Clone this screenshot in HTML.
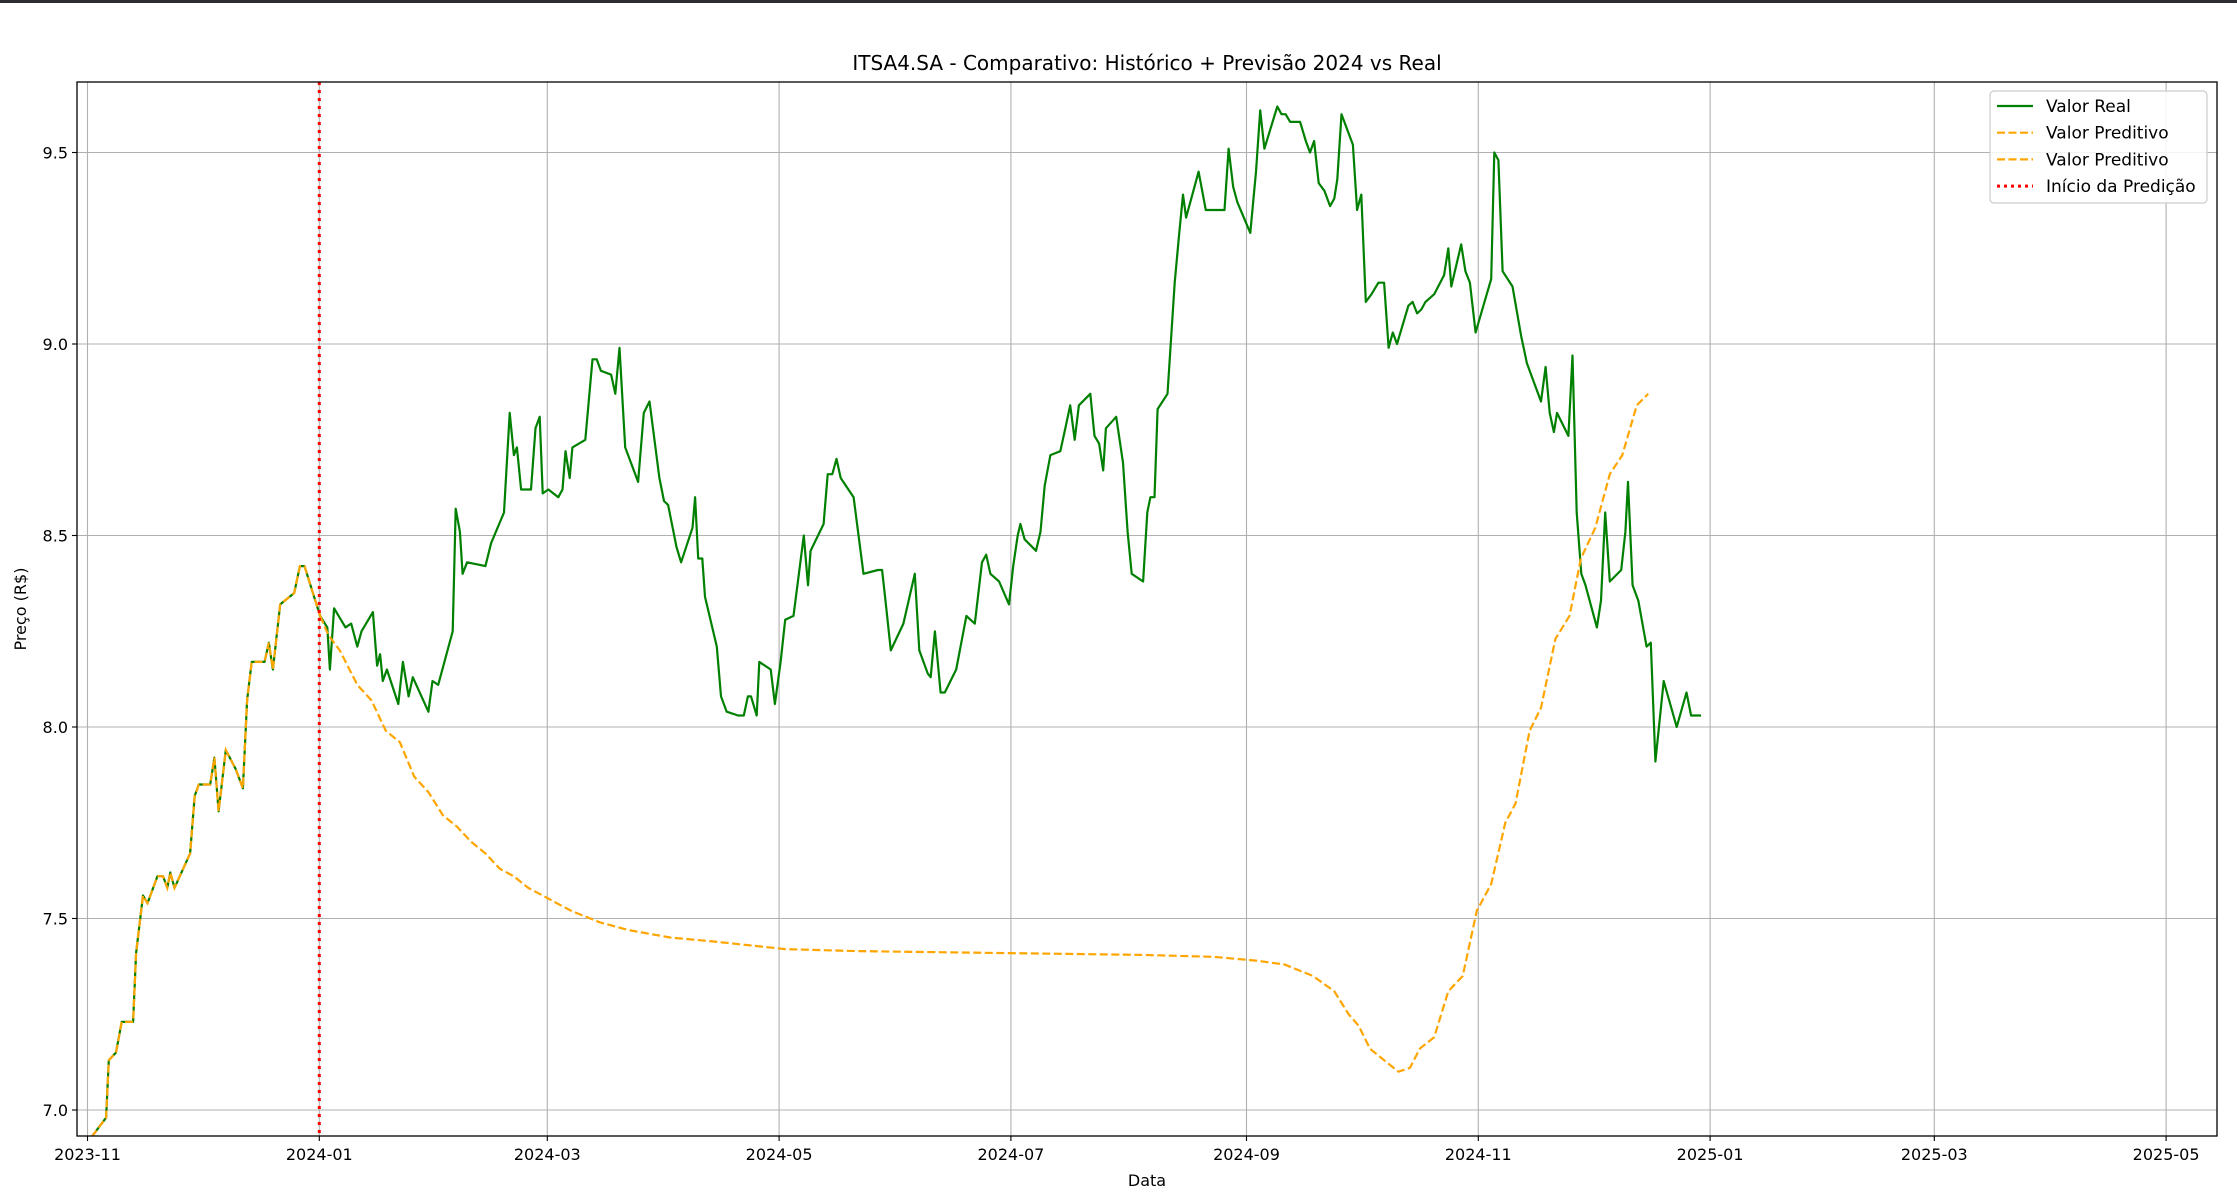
<!DOCTYPE html>
<html><head><meta charset="utf-8"><style>
html,body{margin:0;padding:0;background:#fff;}
#topbar{position:absolute;left:0;top:0;width:2237px;height:3px;background:#2b2d31;}
svg{position:absolute;left:0;top:0;font-family:"DejaVu Sans","Liberation Sans",sans-serif;}
</style></head><body>
<div id="topbar"></div>
<svg id="chart" width="2237" height="1199"></svg>
<script>
const xTickDays=[0,61,121,182,243,305,366,427,486,547];
const xTickLabels=["2023-11","2024-01","2024-03","2024-05","2024-07","2024-09","2024-11","2025-01","2025-03","2025-05"];
const yTicks=[7.0,7.5,8.0,8.5,9.0,9.5];
const histDays=[1.1,4.9,5.6,7.5,9.0,12.0,12.8,14.6,15.8,18.4,19.9,21.0,21.8,22.9,27.0,28.2,29.3,32.3,33.4,34.5,36.4,39.0,40.9,42.0,43.2,46.6,47.7,48.8,50.7,54.4,55.9,57.1,61.2];
const histValues=[6.93,6.98,7.13,7.15,7.23,7.23,7.41,7.56,7.54,7.61,7.61,7.58,7.62,7.58,7.67,7.82,7.85,7.85,7.92,7.78,7.94,7.89,7.84,8.07,8.17,8.17,8.22,8.15,8.32,8.35,8.42,8.42,8.29];
const realDays=[61.2,63.1,63.8,64.9,67.9,69.4,71.0,72.1,75.1,76.2,77.0,77.7,78.8,81.8,83.0,84.5,85.6,89.7,90.8,92.3,96.1,96.9,98.0,98.7,99.9,104.7,106.2,109.6,111.1,112.2,113.0,114.1,116.7,117.9,119.0,119.8,121.3,123.9,125.0,125.8,126.9,127.6,131.0,132.9,134.0,135.1,137.8,138.9,140.0,141.5,144.9,146.4,147.9,150.5,151.7,152.8,155.0,156.2,159.2,159.9,160.7,161.8,162.5,165.6,166.7,168.2,171.2,172.7,173.8,174.6,176.1,176.8,179.8,180.9,182.4,183.6,185.8,188.5,189.6,190.3,193.7,194.8,196.0,197.1,198.2,201.6,204.2,208.0,209.1,210.2,211.4,214.7,217.7,218.9,221.1,221.9,223.0,224.5,225.6,228.6,231.3,232.4,233.5,235.4,236.5,237.6,239.9,242.5,243.6,244.8,245.5,246.6,249.6,250.8,251.9,253.4,256.0,257.1,258.6,259.8,260.9,263.9,265.0,266.2,267.3,268.0,270.7,272.5,273.7,274.8,277.8,278.9,279.7,280.8,281.6,284.2,286.1,287.2,288.3,289.1,292.4,294.3,299.2,300.3,301.5,302.6,306.0,307.5,308.6,309.7,313.1,314.2,315.3,316.5,319.1,320.6,321.7,322.8,324.0,325.5,327.0,328.1,328.9,330.0,333.0,334.1,335.2,336.4,337.9,339.7,341.2,342.4,343.5,344.6,347.6,348.7,349.9,351.0,352.1,354.4,357.0,358.1,358.9,361.5,362.6,363.8,365.3,369.4,370.2,371.3,372.4,375.0,377.3,378.8,382.5,383.7,384.8,385.9,386.7,389.7,390.8,391.9,393.1,394.2,397.2,398.3,399.4,400.6,403.6,404.7,405.4,406.6,408.1,410.3,411.4,412.6,414.8,418.2,420.8,422.0,424.6];
const realValues=[8.29,8.26,8.15,8.31,8.26,8.27,8.21,8.25,8.30,8.16,8.19,8.12,8.15,8.06,8.17,8.08,8.13,8.04,8.12,8.11,8.25,8.57,8.51,8.40,8.43,8.42,8.48,8.56,8.82,8.71,8.73,8.62,8.62,8.78,8.81,8.61,8.62,8.60,8.62,8.72,8.65,8.73,8.75,8.96,8.96,8.93,8.92,8.87,8.99,8.73,8.64,8.82,8.85,8.65,8.59,8.58,8.47,8.43,8.52,8.60,8.44,8.44,8.34,8.21,8.08,8.04,8.03,8.03,8.08,8.08,8.03,8.17,8.15,8.06,8.17,8.28,8.29,8.50,8.37,8.46,8.53,8.66,8.66,8.70,8.65,8.60,8.40,8.41,8.41,8.31,8.20,8.27,8.40,8.20,8.14,8.13,8.25,8.09,8.09,8.15,8.29,8.28,8.27,8.43,8.45,8.40,8.38,8.32,8.42,8.50,8.53,8.49,8.46,8.51,8.63,8.71,8.72,8.77,8.84,8.75,8.84,8.87,8.76,8.74,8.67,8.78,8.81,8.69,8.51,8.40,8.38,8.56,8.60,8.60,8.83,8.87,9.16,9.28,9.39,9.33,9.45,9.35,9.35,9.51,9.41,9.37,9.29,9.45,9.61,9.51,9.62,9.60,9.60,9.58,9.58,9.53,9.50,9.53,9.42,9.40,9.36,9.38,9.43,9.60,9.52,9.35,9.39,9.11,9.13,9.16,9.16,8.99,9.03,9.00,9.10,9.11,9.08,9.09,9.11,9.13,9.18,9.25,9.15,9.26,9.19,9.16,9.03,9.17,9.50,9.48,9.19,9.15,9.02,8.95,8.85,8.94,8.82,8.77,8.82,8.76,8.97,8.56,8.40,8.37,8.26,8.33,8.56,8.38,8.41,8.51,8.64,8.37,8.33,8.21,8.22,7.91,8.12,8.00,8.09,8.03,8.03];
const predDays=[61.2,63.4,66.4,71.0,74.7,78.5,82.2,86.0,89.7,93.5,97.2,101.0,104.7,108.5,112.2,116.0,119.8,123.5,127.3,134.8,142.3,153.5,164.8,183.6,202.3,239.9,277.4,296.2,307.5,315.0,322.5,328.1,331.9,334.5,337.5,341.2,345.0,348.0,350.6,354.4,358.1,361.9,365.6,369.4,373.1,375.8,379.5,382.5,386.3,390.0,393.0,396.8,400.6,403.9,407.7,410.7];
const predValues=[8.29,8.24,8.20,8.11,8.07,7.99,7.96,7.87,7.83,7.77,7.74,7.70,7.67,7.63,7.61,7.58,7.56,7.54,7.52,7.49,7.47,7.45,7.44,7.42,7.415,7.41,7.405,7.40,7.39,7.38,7.35,7.31,7.25,7.22,7.16,7.13,7.10,7.11,7.16,7.19,7.31,7.35,7.52,7.59,7.75,7.80,7.99,8.05,8.23,8.29,8.44,8.52,8.66,8.71,8.84,8.87];
const startDay=61;

const L=77,R=2217,T=82,B=1136;
const xS=d=>87.5+d*3.80;
const yS=v=>152.5+(9.5-v)*383;
const NS="http://www.w3.org/2000/svg";
const svg=document.getElementById('chart');
function mk(tag,attrs,parent){const e=document.createElementNS(NS,tag);for(const k in attrs)e.setAttribute(k,attrs[k]);(parent||svg).appendChild(e);return e;}

const defs=mk('defs',{});
const cp=mk('clipPath',{id:'plotclip'},defs);
mk('rect',{x:L,y:T,width:R-L,height:B-T},cp);

// grid
xTickDays.forEach((d,i)=>{
  const g=mk('line',{x1:xS(d),x2:xS(d),y1:T,y2:B,stroke:'#b0b0b0','stroke-width':1.1});
  
  
  const t=mk('line',{x1:xS(d),x2:xS(d),y1:B,y2:B+5,stroke:'#000','stroke-width':1.1});
  
  
  const tx=mk('text',{x:xS(d),y:B+24,'text-anchor':'middle','font-size':16,fill:'#000'});
  tx.textContent=xTickLabels[i];
  
  
});
yTicks.forEach(v=>{
  const g=mk('line',{x1:L,x2:R,y1:yS(v),y2:yS(v),stroke:'#b0b0b0','stroke-width':1.1});
  
  
  const t=mk('line',{x1:L-5,x2:L,y1:yS(v),y2:yS(v),stroke:'#000','stroke-width':1.1});
  
  
  const tx=mk('text',{x:L-9,y:yS(v)+6,'text-anchor':'end','font-size':16,fill:'#000'});
  tx.textContent=v.toFixed(1);
  
  
});

const plot=mk('g',{'clip-path':'url(#plotclip)'});


function pts(ds,vs){return ds.map((d,i)=>xS(d).toFixed(1)+','+yS(vs[i]).toFixed(1)).join(' ');}

const hg=mk('polyline',{points:pts(histDays,histValues),fill:'none',stroke:'#008000','stroke-width':2.2,'stroke-linejoin':'round'},plot);


const rl=mk('polyline',{points:pts(realDays,realValues),fill:'none',stroke:'#008000','stroke-width':2.2,'stroke-linejoin':'round'},plot);


const pl=mk('polyline',{points:pts(predDays,predValues),fill:'none',stroke:'#ffa500','stroke-width':2.2,'stroke-dasharray':'8,3.5'},plot);


const hp=mk('polyline',{points:pts(histDays,histValues),fill:'none',stroke:'#ffa500','stroke-width':2.2,'stroke-dasharray':'8,3.5'},plot);


const sl=mk('line',{x1:xS(startDay),x2:xS(startDay),y1:T,y2:B,stroke:'#ff0000','stroke-width':3,'stroke-dasharray':'3,5'},plot);



const frame=mk('rect',{x:L,y:T,width:R-L,height:B-T,fill:'none',stroke:'#000','stroke-width':1.3});



const title=mk('text',{x:(L+R)/2,y:70,'text-anchor':'middle','font-size':20,fill:'#000'});
title.textContent='ITSA4.SA - Comparativo: Histórico + Previsão 2024 vs Real';


const xl=mk('text',{x:(L+R)/2,y:1186,'text-anchor':'middle','font-size':16,fill:'#000'});
xl.textContent='Data';


const yl=mk('text',{x:26,y:609,'text-anchor':'middle','font-size':16,fill:'#000',transform:'rotate(-90 26 609)'});
yl.textContent='Preço (R$)';



// legend
const lg=mk('g',{});


mk('rect',{x:1990,y:91,width:217,height:112,rx:4,fill:'#fff','fill-opacity':0.85,stroke:'#cccccc','stroke-width':1.2},lg);
const legItems=[['Valor Real','#008000',''],['Valor Preditivo','#ffa500','8,3.5'],['Valor Preditivo','#ffa500','8,3.5'],['Início da Predição','#ff0000','3,4']];
legItems.forEach((it,i)=>{
  const y=106+i*26.7;
  const ln=mk('line',{x1:1997,x2:2033,y1:y,y2:y,stroke:it[1],'stroke-width':it[1]=='#ff0000'?3:2.2,'stroke-dasharray':it[2]},lg);
  
  
  const t=mk('text',{x:2046,y:y+6,'font-size':17,fill:'#000'},lg);
  t.textContent=it[0];
  
  
});
</script>
</body></html>
